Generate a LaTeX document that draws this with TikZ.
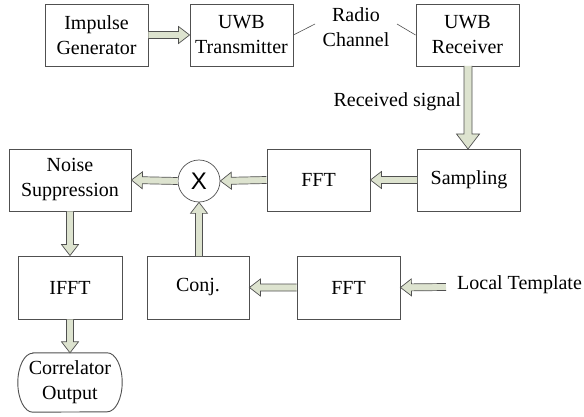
\documentclass[tikz,border=0pt]{standalone}
\usepackage{fontspec}
\setmainfont{Liberation Serif}
\newfontfamily\xsans{Liberation Sans}
\usetikzlibrary{calc}
\definecolor{arrfill}{HTML}{DDE3CF}
\definecolor{boxline}{HTML}{505050}
\def\fatw{8.5pt}\def\fatl{11pt}\def\fats{3.5pt}
\begin{document}
\begin{tikzpicture}[x=1pt,y=-1pt,
 box/.style={draw=boxline, line width=0.9pt, fill=white, minimum width=103pt, minimum height=62pt, inner sep=0pt, align=center, font=\fontsize{20}{25}\selectfont},
 lbl/.style={align=center, inner sep=0pt, font=\fontsize{20}{25}\selectfont},
 fat/.style={draw=boxline, line width=0.7pt, fill=arrfill, line join=miter, to path={
  ($(\tikztostart)!\fats!90:(\tikztotarget)$) --
  ($($(\tikztotarget)!\fatl!(\tikztostart)$)!\fats!90:(\tikztotarget)$) --
  ($($(\tikztotarget)!\fatl!(\tikztostart)$)!\fatw!90:(\tikztotarget)$) --
  (\tikztotarget) --
  ($($(\tikztotarget)!\fatl!(\tikztostart)$)!\fatw!-90:(\tikztotarget)$) --
  ($($(\tikztotarget)!\fatl!(\tikztostart)$)!\fats!-90:(\tikztotarget)$) --
  ($(\tikztostart)!\fats!-90:(\tikztotarget)$)
 }},
 bigfat/.style={fat, /utils/exec={\def\fatw{11.5pt}\def\fatl{15pt}\def\fats{4pt}}},
 thinline/.style={draw=boxline, line width=0.6pt}]
\useasboundingbox (0,0) rectangle (584,417);
% boxes
\node[box] (imp) at (96.5,35) {Impulse\\Generator};
\node[box] (tx) at (241.5,35) {UWB\\Transmitter};
\node[box] (rx) at (467.5,35) {UWB\\Receiver};
\node[box] (samp) at (469,180) {Sampling};
\node[box] (fft1) at (318.5,180) {FFT};
\node[draw=boxline, line width=0.7pt, fill=white, circle, minimum size=42pt, inner sep=0pt, font=\xsans\fontsize{24}{24}\selectfont] (mult) at (199,181) {X};
\node[box, minimum width=122pt] (noise) at (70,180) {Noise\\Suppression};
\node[box, minimum width=104pt, minimum height=63pt] (ifft) at (70,287.5) {IFFT};
\node[box, minimum width=102pt, minimum height=63pt] (conj) at (198,287.5) {Conj.};
\node[box, minimum height=63pt] (fft2) at (348.5,287.5) {FFT};
\node[lbl, minimum width=104pt, minimum height=59pt] (out) at (70,382.5) {Correlator\\Output};
\draw[boxline, line width=0.9pt] ($(out.north west)+(15,0)$) -- ($(out.north east)+(-15,0)$)
  arc[start angle=90, end angle=-90, x radius=15pt, y radius=29.5pt]
  -- ($(out.south west)+(15,0)$)
  arc[start angle=270, end angle=90, x radius=15pt, y radius=29.5pt] -- cycle;
% labels
\node[lbl] (radio) at (356,27) {Radio\\Channel};
\node[lbl, anchor=base east] (recv) at (461,107) {Received signal};
\node[lbl, anchor=base west] (local) at (457,289) {Local Template};
% coordinates
\coordinate (c1) at (315,24);
\coordinate (c2) at (397,24);
\coordinate (rxs) at (468,66);
\coordinate (sampn) at (468,149);
\coordinate (conjn) at (199,256);
\coordinate (lt) at (446,287);
% connectors
\draw[thinline] (tx.east) -- (c1);
\draw[thinline] (c2) -- (rx.west);
\draw[fat] (imp.east) to (tx.west);
\draw[bigfat] (rxs) to (sampn);
\draw[fat] (samp.west) to (fft1.east);
\draw[fat] (fft1.west) to (mult.east);
\draw[fat] (mult.west) to (noise.east);
\draw[fat] (conjn) to (mult.south);
\draw[fat] (fft2.west) to (conj.east);
\draw[fat] (lt) to (fft2.east);
\draw[fat] (noise.south) to (ifft.north);
\draw[fat] (ifft.south) to (out.north);
\end{tikzpicture}
\end{document}
